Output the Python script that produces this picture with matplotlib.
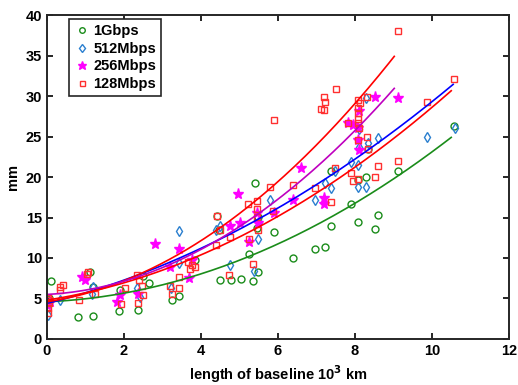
import numpy as np
import matplotlib
matplotlib.use('Agg')
import matplotlib.pyplot as plt

plt.rcParams['font.family'] = ['Liberation Sans', 'DejaVu Sans']
plt.rcParams['font.weight'] = 'bold'

# 1Gbps
g_x = [0.0, 0.05, 0.1, 0.81, 1.2, 1.12, 1.2, 1.88, 1.9, 2.37, 2.5, 2.66, 3.26, 3.44, 3.84,
       4.41, 4.48, 4.49, 4.78, 5.03, 5.25, 5.36, 5.47, 5.45, 5.49, 5.4, 5.9, 6.39, 6.96, 7.22,
       7.38, 7.38, 7.9, 8.08, 8.09, 8.29, 8.33, 8.52, 8.59, 9.11, 10.58]
g_y = [4.9, 5.0, 7.2, 2.7, 2.8, 8.3, 6.4, 3.5, 6.0, 3.6, 7.8, 6.95, 4.8, 5.3, 9.8,
       15.2, 13.4, 7.3, 7.3, 7.4, 10.5, 7.2, 8.3, 13.7, 15.1, 19.3, 13.2, 10.0, 11.1, 11.4,
       13.9, 20.8, 16.7, 19.6, 14.5, 20.0, 23.5, 13.6, 15.3, 20.7, 26.3]

# 512Mbps
b_x = [0.03, 0.05, 0.34, 1.16, 1.2, 2.33, 2.42, 3.22, 3.44, 3.44, 4.38, 4.49, 4.75, 5.38,
       5.47, 5.5, 5.8, 6.96, 7.22, 7.38, 7.48, 7.9, 8.09, 8.09, 8.11, 8.11, 8.29, 8.29, 8.33,
       8.59, 9.86, 10.6]
b_y = [3.0, 4.5, 4.8, 5.6, 6.4, 6.3, 5.2, 6.3, 13.3, 9.4, 13.5, 14.0, 9.1, 8.4,
       12.4, 14.5, 17.1, 17.2, 19.2, 18.7, 20.7, 21.9, 21.5, 18.8, 23.7, 25.9, 18.8, 29.7, 24.2,
       24.8, 25.0, 26.1]

# 256Mbps
m_x = [0.0, 0.08, 0.9, 0.99, 1.83, 1.9, 2.37, 2.8, 3.19, 3.44, 3.7, 3.76, 4.75, 4.96, 5.01,
       5.25, 5.45, 5.49, 5.9, 6.38, 6.6, 7.2, 7.2, 7.81, 7.96, 8.09, 8.09, 8.11, 8.11, 8.52, 9.11]
m_y = [4.2, 4.6, 7.6, 7.3, 4.6, 5.4, 5.6, 11.7, 8.9, 11.1, 7.5, 9.75, 13.9, 17.9, 14.3,
       12.0, 15.5, 14.3, 15.6, 17.1, 21.1, 17.4, 16.7, 26.7, 26.4, 26.0, 24.6, 23.3, 28.1, 29.9, 29.7]

# 128Mbps
r_x = [0.03, 0.03, 0.03, 0.05, 0.05, 0.34, 0.34, 0.41, 0.83, 1.03, 1.07, 1.25, 1.92, 2.03,
       2.35, 2.4, 2.46, 2.5, 2.36, 3.19, 3.24, 3.44, 3.44, 3.67, 3.71, 3.76, 3.84, 4.38, 4.41,
       4.49, 4.74, 4.75, 5.25, 5.23, 5.36, 5.45, 5.45, 5.45, 5.47, 5.88, 5.9, 5.79, 6.38, 6.96,
       7.13, 7.2, 7.2, 7.22, 7.5, 7.48, 7.38, 7.9, 7.96, 8.09, 8.09, 8.12, 8.09, 8.09, 8.09,
       8.09, 7.81, 8.11, 8.09, 8.3, 8.33, 8.3, 8.52, 8.59, 9.11, 9.86, 10.57, 9.12]
r_y = [5.0, 3.8, 3.2, 4.8, 4.4, 6.4, 6.0, 6.7, 4.8, 8.0, 8.3, 5.6, 4.3, 6.3,
       7.9, 7.3, 6.5, 5.4, 4.5, 6.5, 5.6, 6.3, 7.7, 9.5, 8.7, 9.1, 8.9, 11.6, 15.2,
       13.4, 7.9, 12.6, 12.4, 16.7, 9.3, 17.0, 16.1, 15.1, 13.5, 15.8, 27.0, 18.8, 19.0, 18.6,
       28.4, 28.3, 29.9, 29.2, 30.9, 21.1, 16.9, 20.5, 19.5, 19.7, 29.5, 29.1, 28.5, 27.9, 27.2,
       26.7, 26.7, 26.1, 24.6, 29.9, 23.5, 24.9, 20.0, 21.4, 22.0, 29.3, 32.1, 38.0]

# fitted curves: (c0, c1, c2, x_end, colour)
fits = [
    (4.6, 0.20, 0.165, 10.5, '#1a8c1a'),
    (4.4, 1.17, 0.132, 10.55, 'b'),
    (4.8, 0.74, 0.164, 10.5, 'r'),
    (4.6, 0.711, 0.2935, 9.02, 'r'),
    (5.5, 0.25, 0.285, 9.02, 'm'),
]

fig = plt.figure(figsize=(5.18, 3.85), dpi=100)
ax = fig.add_axes([0.0907, 0.1195, 0.8919, 0.8415])

ax.plot(g_x, g_y, 'o', ls='none', mfc='none', mec='#1a8c1a', mew=1.0, ms=5, label='1Gbps')
ax.plot(b_x, b_y, 'd', ls='none', mfc='none', mec='#2a7fcf', mew=1.0, ms=5.5, label='512Mbps')
ax.plot(m_x, m_y, '*', ls='none', mfc='#ff00ff', mec='#ff00ff', ms=8, label='256Mbps')
ax.plot(r_x, r_y, 's', ls='none', mfc='none', mec='#ff3030', mew=1.0, ms=4.5, label='128Mbps')

for c0, c1, c2, xe, col in fits:
    xx = np.linspace(0, xe, 200)
    ax.plot(xx, c0 + c1 * xx + c2 * xx ** 2, color=col, lw=1.2)

ax.set_xlim(0, 12)
ax.set_ylim(0, 40)
ax.set_xticks(np.arange(0, 13, 2))
ax.set_yticks(np.arange(0, 41, 5))
ax.tick_params(direction='in', top=True, right=True, labelsize=10.5, width=1.2, length=4)
for s in ax.spines.values():
    s.set_linewidth(1.4)
    s.set_color('#262626')

ax.set_xlabel(r'length of baseline 10$^\mathbf{3}$ km', fontsize=10.5, fontweight='bold')
ax.set_ylabel('mm', fontsize=10.5, fontweight='bold')

leg = ax.legend(loc='upper left', bbox_to_anchor=(0.048, 0.988), borderaxespad=0,
                fontsize=10.5, markerscale=0.8,
                handletextpad=0.3, handlelength=1.0, borderpad=0.35, labelspacing=0.25,
                fancybox=False, framealpha=1)
leg.get_frame().set_edgecolor('#262626')
leg.get_frame().set_linewidth(1.2)

fig.savefig('out.png', dpi=100)
